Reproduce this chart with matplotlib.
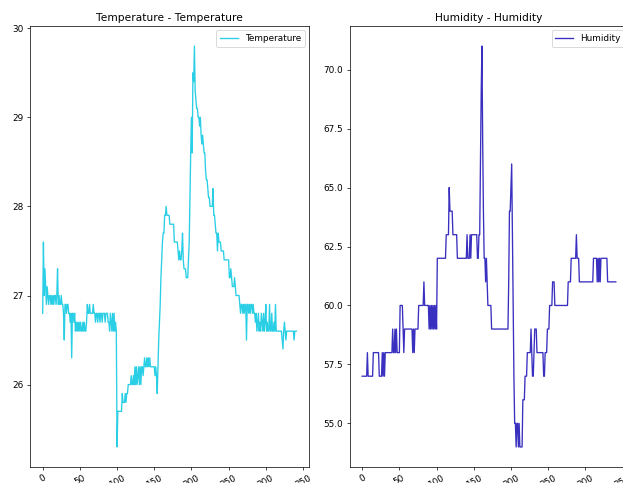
import numpy as np
import matplotlib
matplotlib.use("Agg")
import matplotlib.pyplot as plt

# sensor readings, one per sample
temperature = [
    26.8, 27.6, 27.0, 27.3, 27.1, 26.9, 27.1, 27.0, 26.9, 27.0,
    27.0, 26.9, 27.0, 26.9, 27.0, 26.9, 27.0, 27.0, 26.9, 27.0,
    27.3, 26.9, 27.0, 26.9, 26.9, 27.0, 26.9, 26.9, 26.8, 26.5,
    26.9, 26.9, 26.8, 26.9, 26.9, 26.8, 26.8, 26.7, 26.8, 26.3,
    26.8, 26.8, 26.7, 26.8, 26.6, 26.7, 26.6, 26.7, 26.6, 26.7,
    26.6, 26.7, 26.6, 26.6, 26.7, 26.6, 26.7, 26.6, 26.6, 26.7,
    26.9, 26.8, 26.8, 26.9, 26.8, 26.8, 26.8, 26.8, 26.9, 26.8,
    26.8, 26.7, 26.8, 26.8, 26.7, 26.8, 26.8, 26.7, 26.8, 26.8,
    26.7, 26.8, 26.8, 26.8, 26.7, 26.8, 26.8, 26.8, 26.7, 26.7,
    26.6, 26.8, 26.7, 26.6, 26.8, 26.6, 26.8, 26.6, 26.7, 26.6,
    25.3, 25.7, 25.7, 25.7, 25.7, 25.7, 25.7, 25.9, 25.8, 25.8,
    25.8, 25.9, 25.8, 25.9, 25.9, 26.0, 26.0, 26.0, 26.0, 26.1,
    26.0, 26.0, 26.1, 26.0, 26.2, 26.0, 26.2, 26.0, 26.1, 26.2,
    26.0, 26.2, 26.0, 26.2, 26.2, 26.1, 26.2, 26.3, 26.2, 26.2,
    26.3, 26.2, 26.3, 26.2, 26.3, 26.2, 26.2, 26.2, 26.2, 26.2,
    26.2, 26.1, 26.2, 26.1, 25.9, 26.2, 26.5, 26.7, 26.9, 27.2,
    27.4, 27.6, 27.7, 27.7, 27.9, 27.9, 28.0, 27.9, 27.9, 27.9,
    27.9, 27.8, 27.8, 27.8, 27.8, 27.8, 27.8, 27.6, 27.6, 27.6,
    27.6, 27.6, 27.5, 27.4, 27.5, 27.4, 27.4, 27.5, 27.7, 27.4,
    27.3, 27.3, 27.3, 27.2, 27.2, 27.2, 27.4, 27.6, 28.1, 28.6,
    29.0, 28.6, 29.5, 29.4, 29.8, 29.3, 29.2, 29.1, 29.1, 29.0,
    29.0, 28.9, 29.0, 28.8, 28.7, 28.8, 28.7, 28.6, 28.6, 28.4,
    28.3, 28.3, 28.2, 28.1, 28.1, 28.0, 28.0, 28.0, 28.0, 28.2,
    27.9, 27.9, 27.8, 27.7, 27.7, 27.5, 27.7, 27.6, 27.6, 27.6,
    27.5, 27.5, 27.5, 27.5, 27.4, 27.4, 27.4, 27.4, 27.4, 27.4,
    27.4, 27.2, 27.2, 27.3, 27.2, 27.1, 27.1, 27.1, 27.2, 27.1,
    27.0, 27.0, 27.0, 27.0, 27.0, 26.9, 26.8, 26.9, 26.9, 26.8,
    26.9, 26.8, 26.9, 26.9, 26.5, 26.9, 26.9, 26.8, 26.9, 26.8,
    26.9, 26.9, 26.8, 26.9, 26.8, 26.8, 26.7, 26.8, 26.6, 26.7,
    26.8, 26.6, 26.7, 26.6, 26.8, 26.7, 26.6, 26.8, 26.6, 26.7,
    26.9, 26.6, 26.7, 26.6, 26.6, 26.9, 26.6, 26.6, 26.8, 26.6,
    26.6, 26.7, 26.6, 26.9, 26.6, 26.6, 26.6, 26.6, 26.6, 26.6,
    26.6, 26.6, 26.5, 26.4, 26.6, 26.7, 26.6, 26.5, 26.6, 26.6,
    26.6, 26.6, 26.6, 26.6, 26.6, 26.6, 26.6, 26.6, 26.5, 26.6,
    26.6, 26.6,
]

humidity = [
    57, 57, 57, 57, 57, 57, 57, 58, 57, 57,
    57, 57, 57, 57, 57, 58, 58, 58, 58, 58,
    58, 58, 58, 57, 57, 57, 57, 58, 57, 58,
    57, 58, 58, 58, 58, 58, 58, 58, 58, 58,
    58, 59, 58, 58, 59, 58, 59, 58, 58, 58,
    58, 60, 60, 60, 60, 59, 58, 59, 59, 59,
    59, 59, 59, 59, 59, 59, 59, 59, 58, 59,
    58, 59, 59, 59, 59, 59, 60, 60, 60, 60,
    60, 60, 60, 61, 60, 60, 60, 60, 60, 60,
    59, 60, 59, 60, 59, 60, 59, 60, 59, 60,
    59, 62, 62, 62, 62, 62, 62, 62, 62, 62,
    62, 62, 62, 63, 63, 63, 63, 65, 64, 64,
    64, 64, 63, 63, 63, 63, 63, 63, 62, 62,
    62, 62, 62, 62, 62, 62, 62, 62, 62, 62,
    62, 63, 62, 62, 62, 63, 62, 63, 63, 63,
    63, 63, 63, 63, 63, 62, 62, 63, 63, 66,
    69, 71, 67, 64, 62, 62, 61, 62, 61, 60,
    60, 60, 60, 60, 59, 59, 59, 59, 59, 59,
    59, 59, 59, 59, 59, 59, 59, 59, 59, 59,
    59, 59, 59, 59, 59, 59, 59, 61, 64, 64,
    65, 66, 63, 60, 57, 55, 55, 54, 55, 55,
    54, 55, 54, 54, 54, 54, 56, 56, 56, 57,
    57, 57, 58, 58, 58, 58, 58, 59, 58, 57,
    57, 58, 59, 59, 59, 58, 58, 58, 58, 58,
    58, 58, 58, 58, 57, 57, 58, 58, 58, 59,
    59, 59, 60, 60, 60, 60, 61, 61, 61, 60,
    60, 60, 60, 60, 60, 60, 60, 60, 60, 60,
    60, 60, 60, 60, 60, 60, 60, 61, 61, 61,
    61, 62, 62, 62, 62, 62, 62, 62, 63, 62,
    62, 62, 61, 61, 61, 61, 61, 61, 61, 61,
    61, 61, 61, 61, 61, 61, 61, 61, 61, 61,
    61, 62, 62, 62, 62, 62, 61, 62, 61, 62,
    61, 62, 62, 62, 62, 62, 62, 62, 62, 62,
    61, 61, 61, 61, 61, 61, 61, 61, 61, 61,
    61, 61,
]

x_ticks = [0, 50, 100, 150, 200, 250, 300, 350]
temp_ticks = [26, 27, 28, 29, 30]
hum_ticks = [55.0, 57.5, 60.0, 62.5, 65.0, 67.5, 70.0]

DPI = 64
fig = plt.figure(figsize=(623 / DPI, 483 / DPI), dpi=DPI)

# the second panel runs past the right edge of the canvas
ax1 = fig.add_axes([30 / 623, 16 / 483, 279 / 623, 441 / 483])
ax2 = fig.add_axes([349.5 / 623, 16 / 483, 279 / 623, 441 / 483])

ax1.plot(np.arange(len(temperature)), temperature, color="#2acfe6", label="Temperature")
ax1.set_title("Temperature - Temperature")
ax1.set_yticks(temp_ticks)
ax1.legend(loc="upper right")

ax2.plot(np.arange(len(humidity)), humidity, color="#3a30c0", label="Humidity")
ax2.set_title("Humidity - Humidity")
ax2.set_yticks(hum_ticks)
ax2.legend(loc="upper right")

for ax in (ax1, ax2):
    ax.set_xticks(x_ticks)
    plt.setp(ax.get_xticklabels(), rotation=30)

fig.savefig("out.png", dpi=DPI)
